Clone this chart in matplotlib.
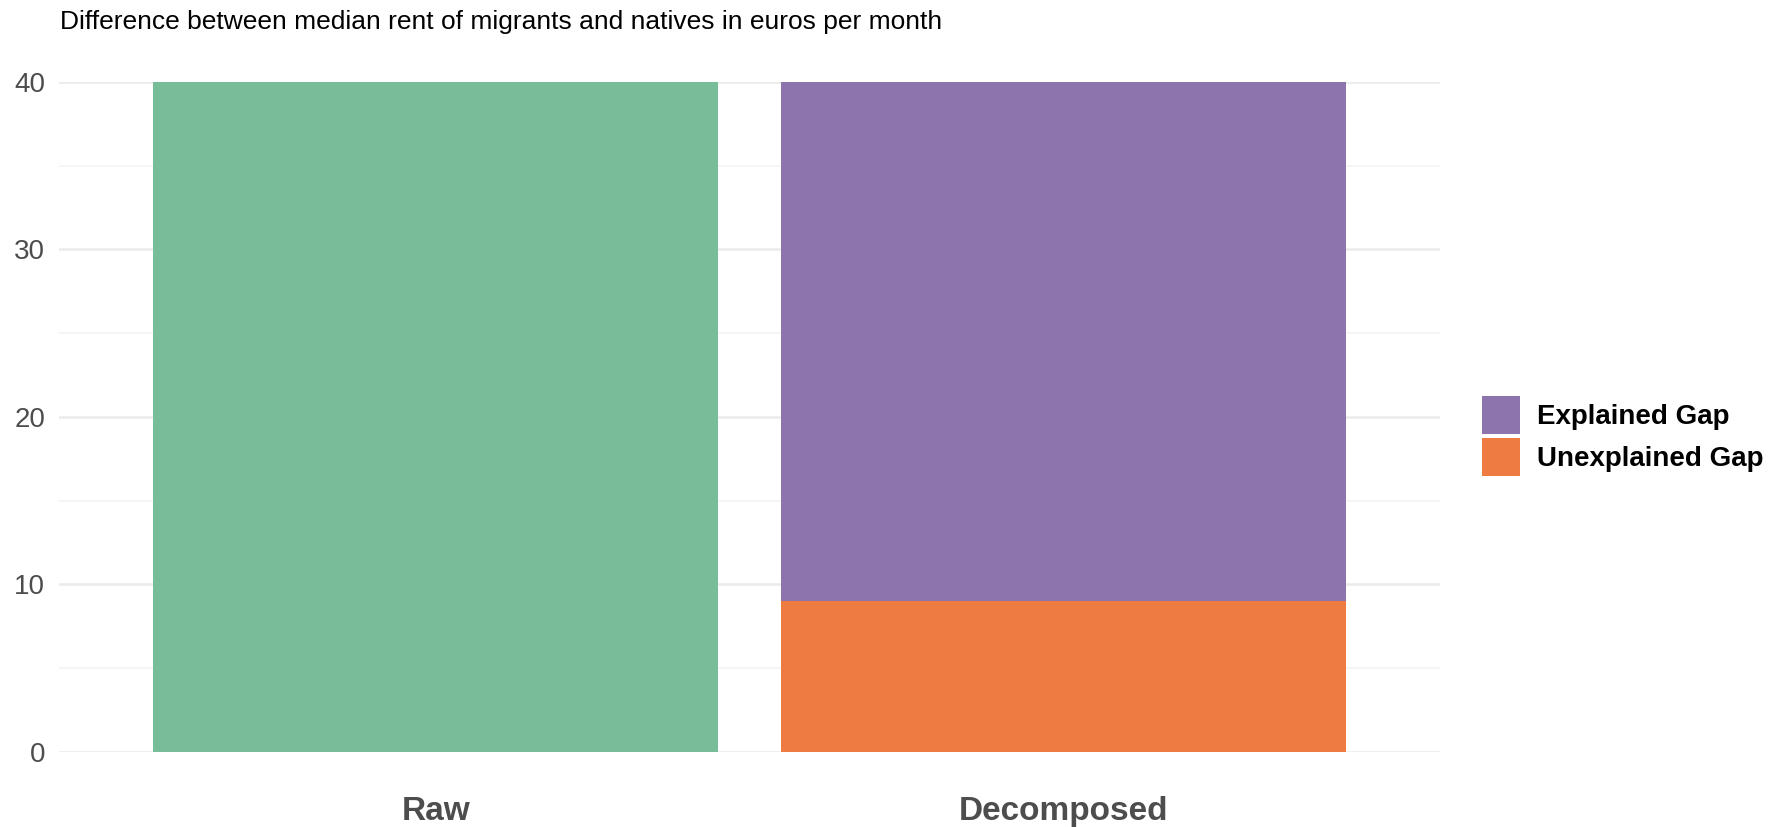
import matplotlib
matplotlib.use("Agg")
import matplotlib.pyplot as plt
from matplotlib.patches import Rectangle
from matplotlib.legend_handler import HandlerPatch

plt.rcParams['font.family'] = ['Liberation Sans', 'DejaVu Sans']

# median rent gap (euros per month)
categories = ["Raw", "Decomposed"]
raw_gap = 40
explained_gap = 31
unexplained_gap = 9
legend_labels = ['Explained Gap', 'Unexplained Gap']

green = '#77BD99'
purple = '#8E74AD'
orange = '#EE7B42'


def square_key(legend, orig_handle, xdescent, ydescent, width, height, fontsize):
    # square key (27.4 pt) centred in the handle box
    side = 27.4
    return Rectangle((-xdescent, height / 2 - ydescent - side / 2), width, side)


fig = plt.figure(figsize=(17.81, 8.27), dpi=100)
ax = fig.add_axes([59/1781, 1-752/827, (1440-59)/1781, (752-81.8)/827])

x = range(len(categories))
ax.bar(x[0], raw_gap, width=0.9, color=green, zorder=2)
b_unexp = ax.bar(x[1], unexplained_gap, width=0.9, color=orange, zorder=2)
b_exp = ax.bar(x[1], explained_gap, bottom=unexplained_gap, width=0.9,
               color=purple, zorder=2)

ax.set_xlim(-0.6, 1.6)
ax.set_ylim(0, 40)
ax.set_xticks(list(x))
ax.set_xticklabels(categories, fontsize=24, fontweight='bold', color='#4D4D4D')
ax.set_yticks([0, 10, 20, 30, 40])
ax.set_yticks([5, 15, 25, 35], minor=True)
ax.tick_params(axis='y', which='major', length=0, pad=10, labelsize=20,
               labelcolor='#4D4D4D')
ax.tick_params(axis='y', which='minor', length=0)
ax.tick_params(axis='x', length=0, pad=32)

ax.grid(which='major', axis='y', color='#EBEBEB', lw=1.8, zorder=0)
ax.grid(which='minor', axis='y', color='#F3F3F3', lw=1.1, zorder=0)
ax.grid(axis='x', visible=False)
ax.set_axisbelow(True)
for s in ax.spines.values():
    s.set_visible(False)

fig.text(60/1781, 1-22/827, 'Difference between median rent of migrants and natives in euros per month',
         fontsize=19, ha='left', va='center', color='black')

leg = fig.legend(handles=[b_exp[0], b_unexp[0]], labels=legend_labels,
                 handler_map={Rectangle: HandlerPatch(patch_func=square_key)},
                 loc='center left', bbox_to_anchor=(1482/1781, 1-436/827),
                 frameon=False, prop={'size': 20, 'weight': 'bold'},
                 handlelength=1.37, handleheight=1.37, handletextpad=0.6,
                 labelspacing=0.36, borderpad=0, borderaxespad=0)

fig.savefig('out.png', dpi=100)
